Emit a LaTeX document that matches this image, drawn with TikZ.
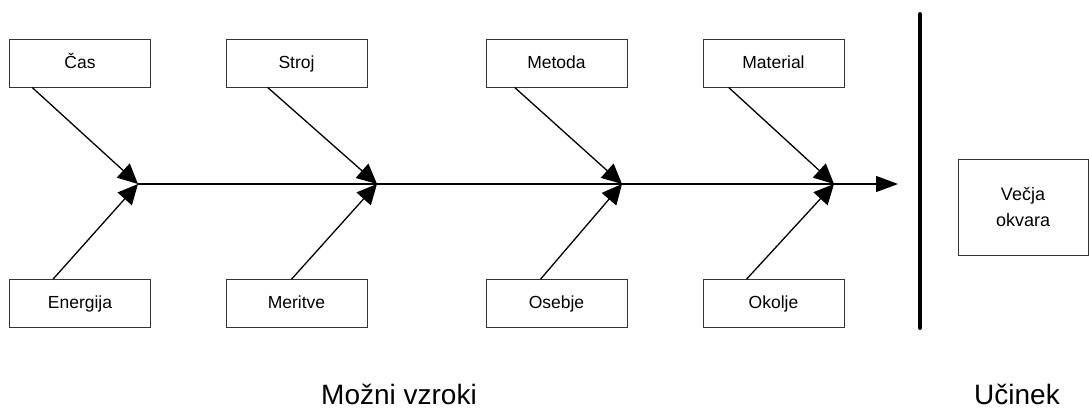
\documentclass[tikz,border=0pt]{standalone}
\usepackage{fontspec}
\setmainfont{Liberation Sans}
\usetikzlibrary{arrows.meta}
\begin{document}
\begin{tikzpicture}[x=1pt,y=-1pt,
  cause/.style={draw=black!80,line width=0.8pt,fill=white,minimum width=141pt,minimum height=48pt,inner sep=0pt,text height=12.5pt,text depth=2.5pt,font=\fontsize{17.5}{20}\selectfont},
  effect/.style={draw=black!80,line width=0.8pt,fill=white,minimum width=130pt,minimum height=96pt,inner sep=0pt,align=center,font=\fontsize{18}{26}\selectfont},
  branch/.style={line width=1.3pt,-{Triangle[length=20pt,width=19pt]}},
  spine/.style={line width=1.3pt,-{Triangle[length=22pt,width=16pt]}},
  bigtext/.style={font=\fontsize{28}{32}\selectfont,anchor=base}]
\useasboundingbox (0,0) rectangle (1089,410);
% cause boxes
\node[cause] (cas) at (80,63) {Čas};
\node[cause] (stroj) at (296.5,63) {Stroj};
\node[cause] (metoda) at (556.5,63) {Metoda};
\node[cause] (material) at (773.5,63) {Material};
\node[cause] (energija) at (80,303.5) {Energija};
\node[cause] (meritve) at (296.5,303.5) {Meritve};
\node[cause] (osebje) at (556.5,303.5) {Osebje};
\node[cause] (okolje) at (773.5,303.5) {Okolje};
% junctions
\coordinate (j1) at (138,184);
\coordinate (j2) at (377,184);
\coordinate (j3) at (622,184);
\coordinate (j4) at (834,184);
\coordinate (tip) at (898,184);
% spine
\draw[spine] (j1) -- (tip);
% branches
\draw[branch] ([xshift=23pt]cas.south west) -- (j1);
\draw[branch] ([xshift=44pt]energija.north west) -- (j1);
\draw[branch] ([xshift=42pt]stroj.south west) -- (j2);
\draw[branch] ([xshift=66pt]meritve.north west) -- (j2);
\draw[branch] ([xshift=29pt]metoda.south west) -- (j3);
\draw[branch] ([xshift=55pt]osebje.north west) -- (j3);
\draw[branch] ([xshift=26pt]material.south west) -- (j4);
\draw[branch] ([xshift=44pt]okolje.north west) -- (j4);
% divider
\coordinate (bartop) at (920,14);
\coordinate (barbot) at (920,328);
\draw[line width=4pt,line cap=round] (bartop) -- (barbot);
% effect
\node[effect] (effectbox) at (1023,207) {Večja\\okvara};
% labels
\node[bigtext] (causes) at (399,404.5) {Možni vzroki};
\node[bigtext] (effectlabel) at (1017,404.5) {Učinek};
\end{tikzpicture}
\end{document}
